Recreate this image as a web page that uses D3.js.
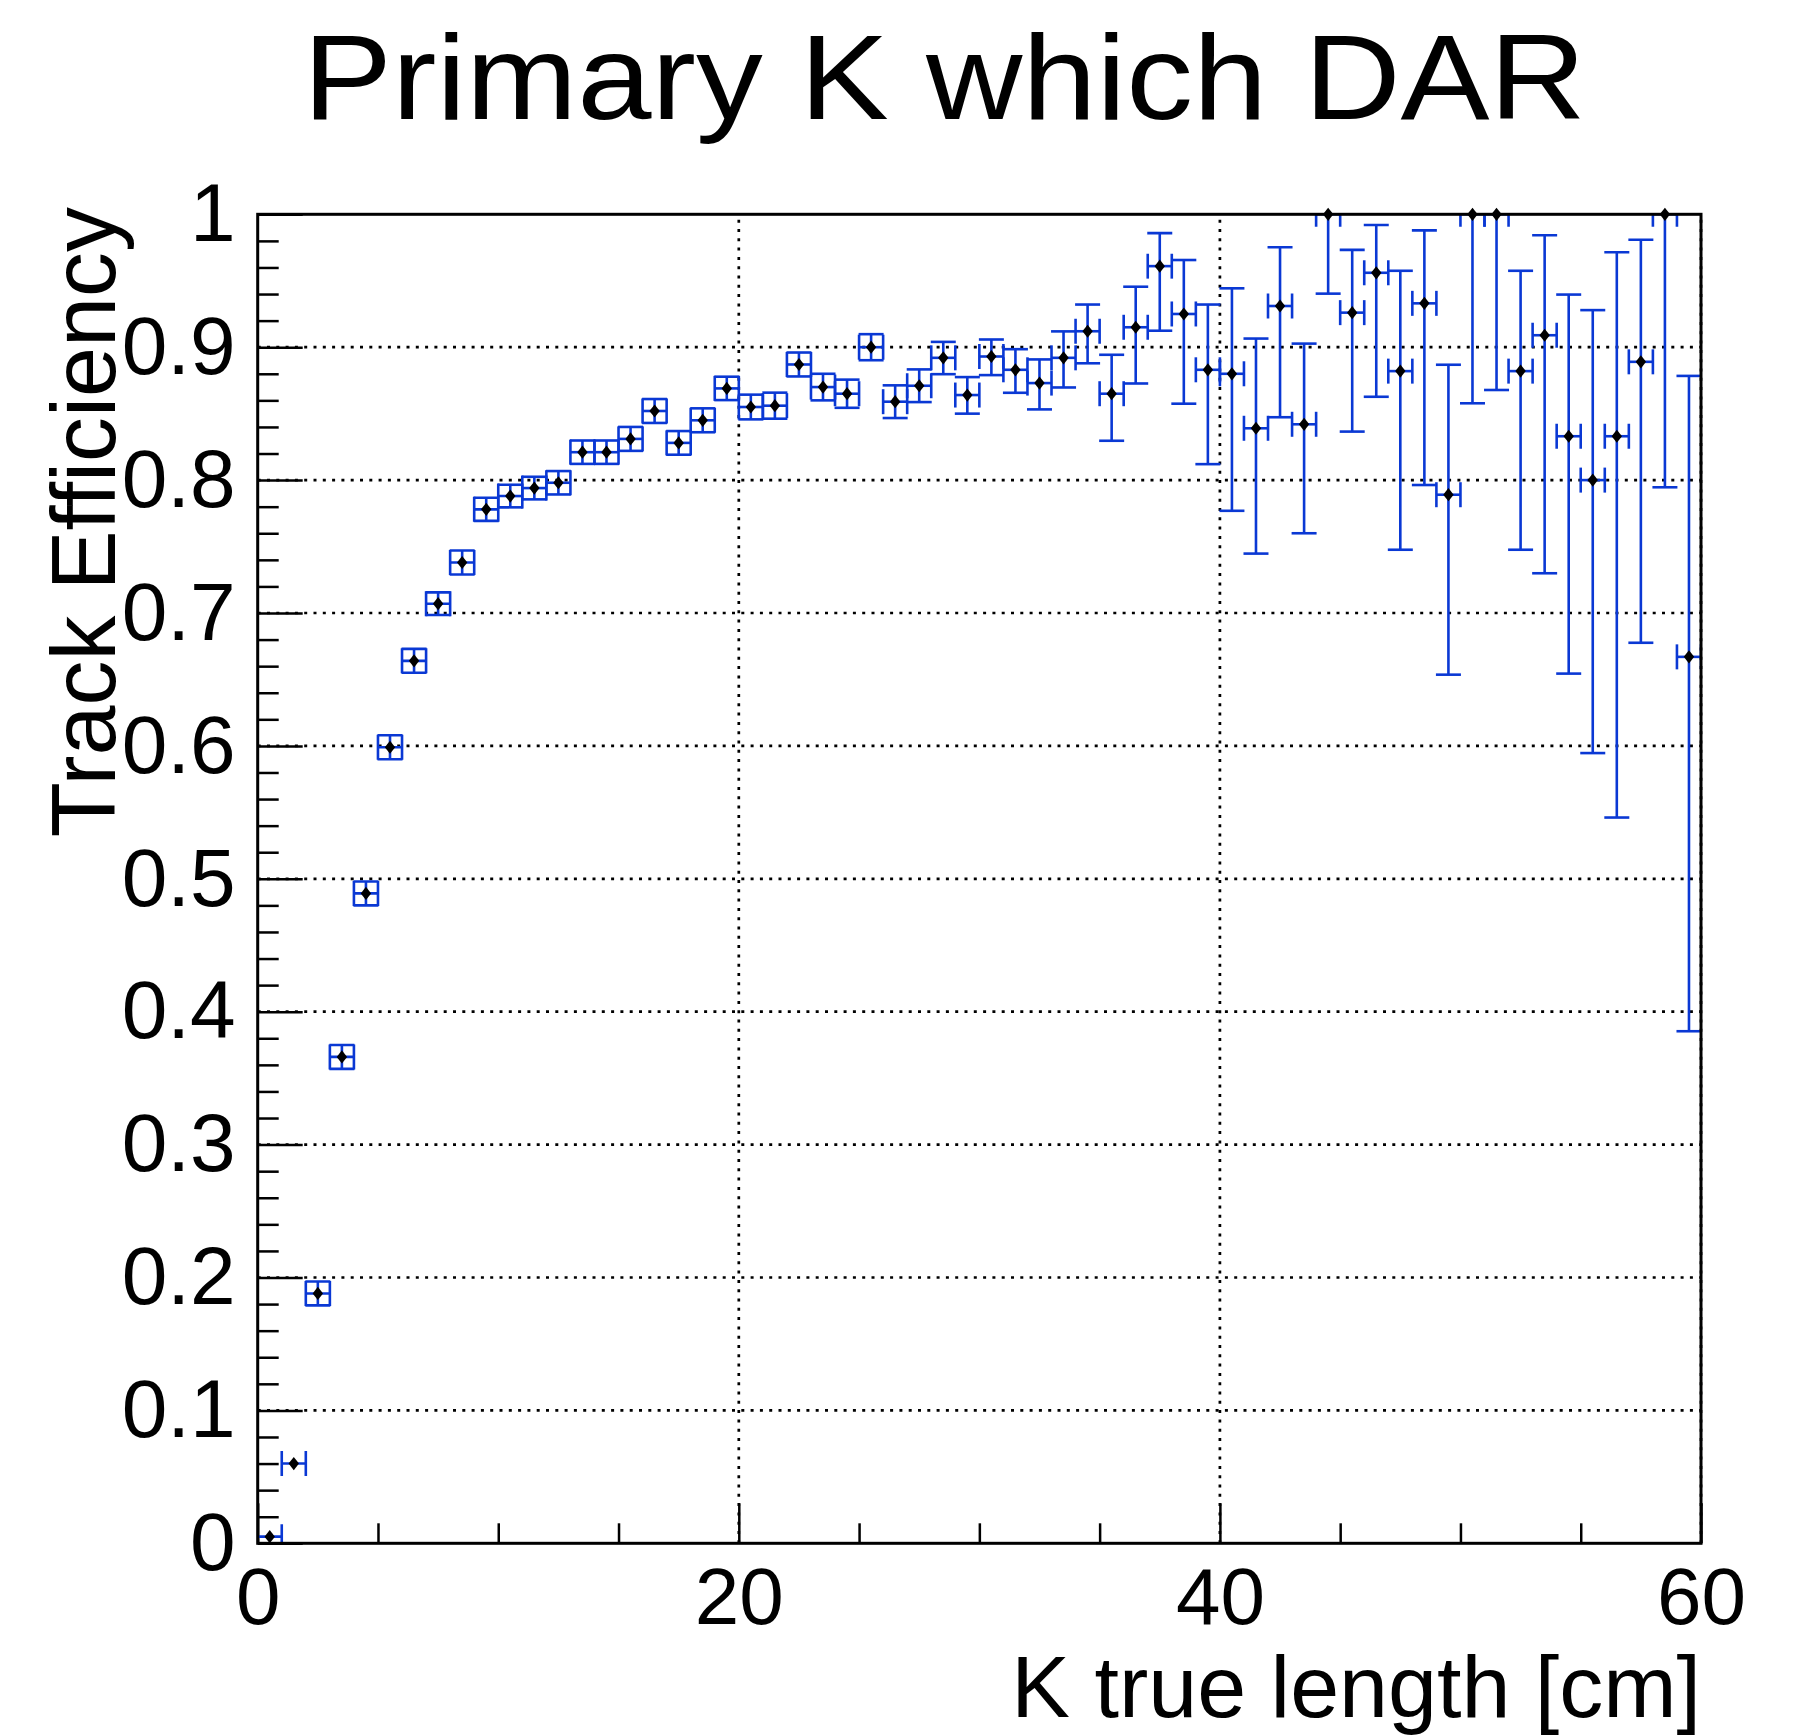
<!DOCTYPE html>
<html>
<head>
<meta charset="utf-8">
<script src="https://cdn.jsdelivr.net/npm/d3@7"></script>
<style>
  html, body { margin: 0; padding: 0; background: #fff; }
  svg { display: block; font-family: "Liberation Sans", Arial, Helvetica, sans-serif; }
</style>
</head>
<body>
<svg id="chart" width="1803" height="1736"></svg>
<script>
// ---------------- data ----------------
const titleText = "Primary K which DAR";
const xTitle = "K true length [cm]";
const yTitle = "Track Efficiency";

const binCenters = [0.5, 1.5, 2.5, 3.5, 4.5, 5.5, 6.5, 7.5, 8.5, 9.5,
  10.5, 11.5, 12.5, 13.5, 14.5, 15.5, 16.5, 17.5, 18.5, 19.5,
  20.5, 21.5, 22.5, 23.5, 24.5, 25.5, 26.5, 27.5, 28.5, 29.5,
  30.5, 31.5, 32.5, 33.5, 34.5, 35.5, 36.5, 37.5, 38.5, 39.5,
  40.5, 41.5, 42.5, 43.5, 44.5, 45.5, 46.5, 47.5, 48.5, 49.5,
  50.5, 51.5, 52.5, 53.5, 54.5, 55.5, 56.5, 57.5, 58.5, 59.5];
const binHalfWidth = 0.5;

const efficiency = [0.005, 0.060, 0.188, 0.366, 0.489, 0.599, 0.664, 0.707, 0.738, 0.778,
  0.788, 0.794, 0.798, 0.821, 0.821, 0.831, 0.852, 0.828, 0.845, 0.869,
  0.855, 0.856, 0.887, 0.870, 0.865, 0.900, 0.859, 0.871, 0.892, 0.864,
  0.893, 0.883, 0.873, 0.892, 0.912, 0.865, 0.915, 0.961, 0.925, 0.883,
  0.880, 0.839, 0.931, 0.842, 1.000, 0.926, 0.956, 0.882, 0.933, 0.789,
  1.000, 1.000, 0.882, 0.909, 0.833, 0.800, 0.833, 0.889, 1.000, 0.667];

const errLow = [0.003, 0.003, 0.009, 0.009, 0.009, 0.009, 0.009, 0.0085, 0.009, 0.0087,
  0.0085, 0.0085, 0.0088, 0.0088, 0.0088, 0.009, 0.009, 0.0089, 0.009, 0.0088,
  0.0093, 0.0098, 0.009, 0.010, 0.0106, 0.0098, 0.0123, 0.0123, 0.0123, 0.014,
  0.014, 0.0173, 0.0198, 0.0223, 0.0241, 0.0354, 0.0423, 0.0486, 0.0675, 0.071,
  0.1031, 0.0943, 0.0837, 0.082, 0.0597, 0.0895, 0.0933, 0.1344, 0.1367, 0.1354,
  0.1422, 0.1322, 0.1344, 0.1791, 0.1786, 0.2054, 0.2869, 0.2114, 0.2054, 0.2817];

const errHigh = [0.003, 0.003, 0.009, 0.009, 0.009, 0.009, 0.009, 0.0085, 0.009, 0.0087,
  0.0085, 0.0085, 0.0088, 0.0088, 0.0088, 0.009, 0.009, 0.0089, 0.009, 0.0088,
  0.0093, 0.0098, 0.009, 0.010, 0.0106, 0.0098, 0.0123, 0.0123, 0.012, 0.0135,
  0.0128, 0.0155, 0.0178, 0.0199, 0.0201, 0.0293, 0.0305, 0.0248, 0.0406, 0.0491,
  0.0643, 0.0675, 0.0442, 0.0607, 0.0, 0.0472, 0.0359, 0.0755, 0.0549, 0.0978,
  0.0, 0.0, 0.0755, 0.0752, 0.1066, 0.1279, 0.1384, 0.0918, 0.0, 0.2114];

const xMajorTicks = [0, 20, 40, 60];
const xTickLabels = ["0", "20", "40", "60"];
const xMinorTicks = [5, 10, 15, 25, 30, 35, 45, 50, 55];
const yMajorTicks = [0, 0.1, 0.2, 0.3, 0.4, 0.5, 0.6, 0.7, 0.8, 0.9, 1];
const yTickLabels = ["0", "0.1", "0.2", "0.3", "0.4", "0.5", "0.6", "0.7", "0.8", "0.9", "1"];
const yMinorTicks = [0.02, 0.04, 0.06, 0.08, 0.12, 0.14, 0.16, 0.18, 0.22, 0.24, 0.26, 0.28,
  0.32, 0.34, 0.36, 0.38, 0.42, 0.44, 0.46, 0.48, 0.52, 0.54, 0.56, 0.58,
  0.62, 0.64, 0.66, 0.68, 0.72, 0.74, 0.76, 0.78, 0.82, 0.84, 0.86, 0.88,
  0.92, 0.94, 0.96, 0.98];
const xGrid = [20, 40, 60];
const yGrid = [0.1, 0.2, 0.3, 0.4, 0.5, 0.6, 0.7, 0.8, 0.9];

// ---------------- layout ----------------
const L = 257.7, R = 1701, T = 214.3, B = 1543.3;
const blue = "#0a38d4";
const capHalf = 12.5;
const mHalfW = 5.2, mHalfH = 6.6;

const svg = d3.select("#chart");
const x = d3.scaleLinear().domain([0, 60]).range([L, R]);
const y = d3.scaleLinear().domain([0, 1]).range([B, T]);

svg.append("defs").append("clipPath").attr("id", "plotclip")
  .append("rect").attr("x", L).attr("y", T).attr("width", R - L).attr("height", B - T);

// grid
const grid = svg.append("g").attr("stroke", "#000").attr("stroke-width", 2.7)
  .attr("stroke-dasharray", "3 6.3").attr("fill", "none");
grid.selectAll("line.gx").data(xGrid).join("line").attr("class", "gx")
  .attr("x1", d => x(d)).attr("x2", d => x(d)).attr("y1", B).attr("y2", T);
grid.selectAll("line.gy").data(yGrid).join("line").attr("class", "gy")
  .attr("x1", L).attr("x2", R).attr("y1", d => y(d)).attr("y2", d => y(d));

// axes
const fontTick = 82;
const yAxisMajor = d3.axisLeft(y).tickValues(yMajorTicks)
  .tickFormat((d, i) => yTickLabels[i]).tickSize(-45).tickPadding(22);
const yAxisMinor = d3.axisLeft(y).tickValues(yMinorTicks).tickFormat("").tickSize(-21);
const xAxisMajor = d3.axisBottom(x).tickValues(xMajorTicks)
  .tickFormat((d, i) => xTickLabels[i]).tickSize(-40).tickPadding(24);
const xAxisMinor = d3.axisBottom(x).tickValues(xMinorTicks).tickFormat("").tickSize(-20);

function styleAxis(g) {
  g.select(".domain").remove();
  g.selectAll(".tick line").attr("stroke", "#000").attr("stroke-width", 2.5);
  g.selectAll(".tick text").attr("fill", "#000").attr("font-family", null);
}
svg.append("g").attr("transform", `translate(${L},0)`).call(yAxisMinor).call(styleAxis);
svg.append("g").attr("transform", `translate(${L},0)`).call(yAxisMajor).call(styleAxis)
  .selectAll(".tick text").attr("font-size", fontTick);
svg.append("g").attr("transform", `translate(0,${B})`).call(xAxisMinor).call(styleAxis);
svg.append("g").attr("transform", `translate(0,${B})`).call(xAxisMajor).call(styleAxis)
  .selectAll(".tick text").attr("font-size", 80);

// data table
const points = binCenters.map((c, i) => ({
  c, v: efficiency[i], lo: errLow[i], hi: errHigh[i]
}));

// error bars
const eb = svg.append("g").attr("clip-path", "url(#plotclip)")
  .attr("stroke", blue).attr("stroke-width", 2.6).attr("fill", "none");
points.forEach(p => {
  const cx = x(p.c), cy = y(p.v);
  const xl = x(p.c - binHalfWidth), xr = x(p.c + binHalfWidth);
  const g = eb.append("g");
  // horizontal error bar with end ticks
  g.append("line").attr("x1", xl).attr("x2", xr).attr("y1", cy).attr("y2", cy);
  g.append("line").attr("x1", xl).attr("x2", xl).attr("y1", cy - capHalf).attr("y2", cy + capHalf);
  g.append("line").attr("x1", xr).attr("x2", xr).attr("y1", cy - capHalf).attr("y2", cy + capHalf);
  // vertical error bars (only when larger than the marker)
  const yTop = y(p.v + p.hi), yBot = y(p.v - p.lo);
  if (cy - yTop > mHalfH) {
    g.append("line").attr("x1", cx).attr("x2", cx).attr("y1", cy).attr("y2", yTop);
    g.append("line").attr("x1", cx - capHalf).attr("x2", cx + capHalf).attr("y1", yTop).attr("y2", yTop);
  }
  if (yBot - cy > mHalfH) {
    g.append("line").attr("x1", cx).attr("x2", cx).attr("y1", cy).attr("y2", yBot);
    g.append("line").attr("x1", cx - capHalf).attr("x2", cx + capHalf).attr("y1", yBot).attr("y2", yBot);
  }
});

// frame
svg.append("rect").attr("x", L).attr("y", T).attr("width", R - L).attr("height", B - T)
  .attr("fill", "none").attr("stroke", "#000").attr("stroke-width", 3);

// markers (filled diamonds)
svg.append("g").selectAll("path").data(points).join("path")
  .attr("d", p => {
    const cx = x(p.c), cy = y(p.v);
    return `M${cx},${cy - mHalfH}L${cx + mHalfW},${cy}L${cx},${cy + mHalfH}L${cx - mHalfW},${cy}Z`;
  })
  .attr("fill", "#000");

// titles
svg.append("text").attr("x", 303).attr("y", 118.5)
  .attr("font-size", 120).attr("textLength", 1283).attr("lengthAdjust", "spacingAndGlyphs")
  .attr("fill", "#000").text(titleText);

svg.append("text").attr("x", R).attr("y", 1717).attr("text-anchor", "end")
  .attr("font-size", 88).attr("fill", "#000").text(xTitle);

svg.append("text").attr("transform", `translate(115,207) rotate(-90)`)
  .attr("text-anchor", "end").attr("font-size", 90).attr("fill", "#000").text(yTitle);
</script>
</body>
</html>
